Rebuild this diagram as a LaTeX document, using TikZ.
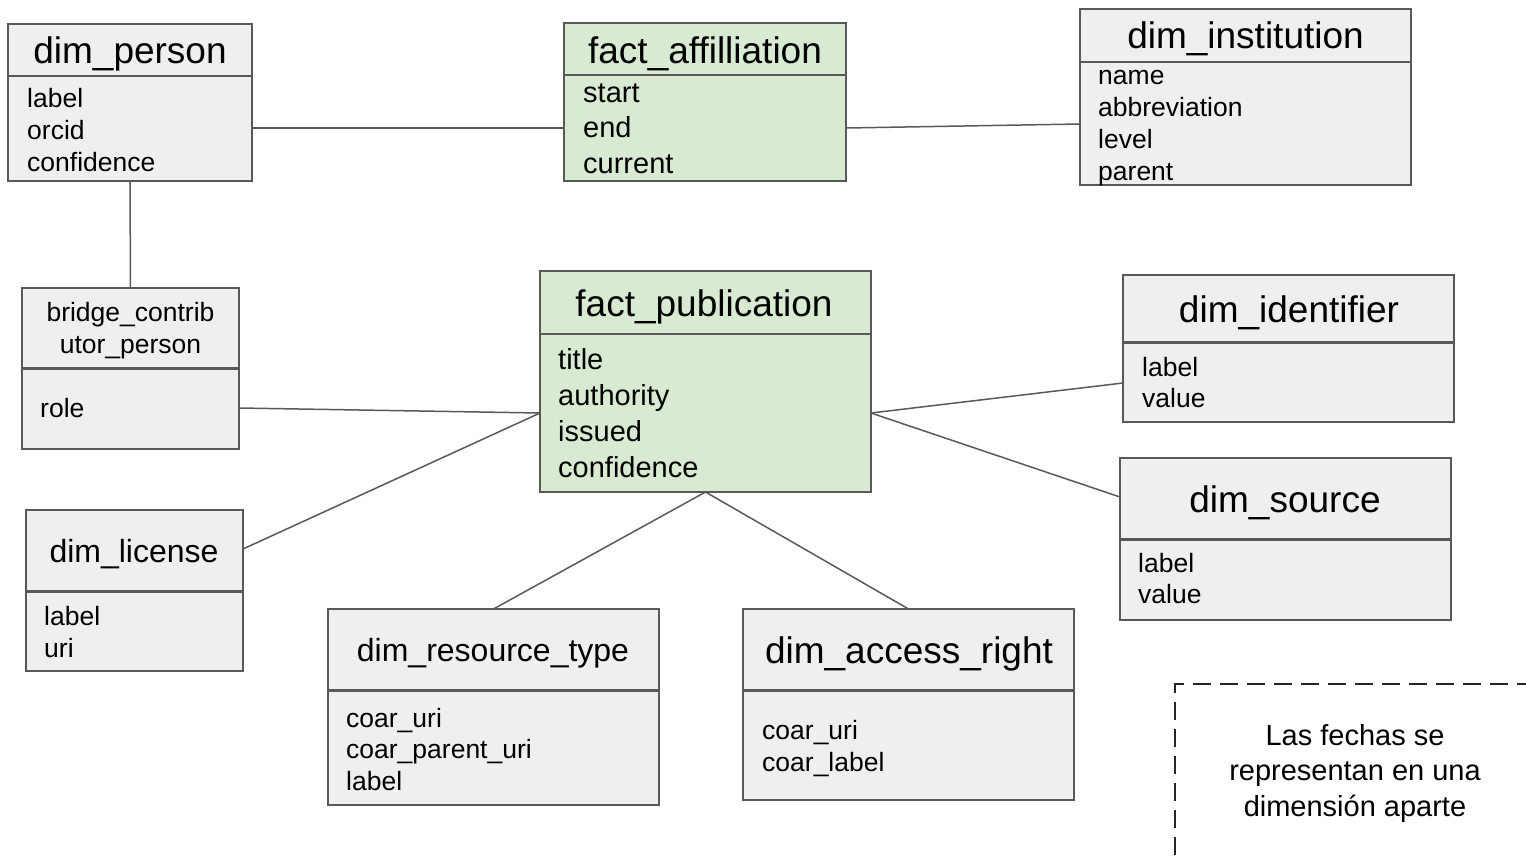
\documentclass[tikz,border=0pt]{standalone}
\usepackage{fontspec}
\setmainfont{Liberation Sans}
\definecolor{bordc}{HTML}{595959}
\definecolor{grayf}{HTML}{EFEFEF}
\definecolor{greenf}{HTML}{D9EAD3}
\newcommand\tblfields[5]{%
  \foreach \fname [count=\i] in {#5}
    \node[fld] (#1-\i) at (#2,{#3+#4*(\i-1)}) {\fname};}
\newcommand\tblfieldsb[5]{%
  \foreach \fname [count=\i] in {#5}
    \node[fldb] (#1-\i) at (#2,{#3+#4*(\i-1)}) {\fname};}
\begin{document}
\begin{tikzpicture}[x=1pt,y=-1pt,
  tbl/.style={draw=bordc, line width=2pt, fill=grayf, inner sep=0pt, outer sep=0pt},
  fact/.style={tbl, fill=greenf},
  ttl/.style={font=\fontsize{37}{44}\selectfont, anchor=base, inner sep=0pt},
  ttls/.style={font=\fontsize{32}{38}\selectfont, anchor=base, inner sep=0pt},
  ttlxs/.style={font=\fontsize{26.5}{32}\selectfont, anchor=base, inner sep=0pt},
  fld/.style={font=\fontsize{26.5}{32}\selectfont, anchor=base west, inner sep=0pt},
  fldb/.style={font=\fontsize{29}{36}\selectfont, anchor=base west, inner sep=0pt},
  notet/.style={font=\fontsize{29}{35}\selectfont, anchor=base, inner sep=0pt},
  conn/.style={draw=bordc, line width=1.5pt},
  divl/.style={draw=bordc, line width=2pt},
  divd/.style={draw=bordc, line width=3pt}]
\useasboundingbox (0,0) rectangle (1526,855);

% boxes
\node[tbl, minimum width=244pt, minimum height=157pt] (person) at (130,102.5) {};
\node[fact, minimum width=282pt, minimum height=158pt] (aff) at (705,102) {};
\node[tbl, minimum width=331pt, minimum height=176pt] (inst) at (1245.5,97) {};
\node[tbl, minimum width=217pt, minimum height=161pt] (bridge) at (130.5,368.5) {};
\node[fact, minimum width=331pt, minimum height=221pt] (pub) at (705.5,381.5) {};
\node[tbl, minimum width=331pt, minimum height=147pt] (ident) at (1288.5,348.5) {};
\node[tbl, minimum width=331pt, minimum height=162pt] (source) at (1285.5,539) {};
\node[tbl, minimum width=217pt, minimum height=161pt] (license) at (134.5,590.5) {};
\node[tbl, minimum width=331pt, minimum height=196pt] (rtype) at (493.5,707) {};
\node[tbl, minimum width=331pt, minimum height=191pt] (access) at (908.5,704.5) {};

% header dividers
\draw[divl] (person.west |- 0,76) -- (person.east |- 0,76);
\draw[divl] (aff.west |- 0,75) -- (aff.east |- 0,75);
\draw[divl] (inst.west |- 0,62) -- (inst.east |- 0,62);
\draw[divd] (bridge.west |- 0,368) -- (bridge.east |- 0,368);
\draw[divl] (pub.west |- 0,334) -- (pub.east |- 0,334);
\draw[divd] (ident.west |- 0,342) -- (ident.east |- 0,342);
\draw[divd] (source.west |- 0,539) -- (source.east |- 0,539);
\draw[divd] (license.west |- 0,591) -- (license.east |- 0,591);
\draw[divd] (rtype.west |- 0,690) -- (rtype.east |- 0,690);
\draw[divd] (access.west |- 0,690) -- (access.east |- 0,690);

% titles
\node[ttl] (person-t) at (130,63.5) {dim\_person};
\node[ttl] (aff-t) at (705,63) {fact\_affilliation};
\node[ttl] (inst-t) at (1245.5,48.5) {dim\_institution};
\node[ttlxs] (bridge-t1) at (130.5,321) {bridge\_contrib};
\node[ttlxs] (bridge-t2) at (130.5,353) {utor\_person};
\node[ttl] (pub-t) at (704,316) {fact\_publication};
\node[ttl] (ident-t) at (1289,322) {dim\_identifier};
\node[ttl] (source-t) at (1285,512) {dim\_source};
\node[ttls] (license-t) at (134,562) {dim\_license};
\node[ttls] (rtype-t) at (493,661) {dim\_resource\_type};
\node[ttl] (access-t) at (909,663) {dim\_access\_right};

% fields
\tblfields{person-f}{27}{107}{32}{label,orcid,confidence}
\tblfieldsb{aff-f}{583}{102}{35.5}{start,end,current}
\tblfields{inst-f}{1098}{84.5}{32}{name,abbreviation,level,parent}
\node[fld] (bridge-f1) at (40,417) {role};
\tblfieldsb{pub-f}{558}{369}{36}{title,authority,issued,confidence}
\tblfields{ident-f}{1142}{376}{31.5}{label,value}
\tblfields{source-f}{1138}{572}{31.5}{label,value}
\tblfields{license-f}{44}{625}{32}{label,uri}
\tblfields{rtype-f}{346}{727}{31.5}{coar\_uri,coar\_parent\_uri,label}
\tblfields{access-f}{762}{739}{32}{coar\_uri,coar\_label}

% connectors
\draw[conn] ([yshift=-25.5pt]person.east) -- ([yshift=-26pt]aff.west);
\draw[conn] ([yshift=-26pt]aff.east) -- ([yshift=-27pt]inst.west);
\draw[conn] (person.south) -- (bridge.north);
\draw[conn] ([yshift=-39.5pt]bridge.east) -- ([yshift=-31.5pt]pub.west);
\draw[conn] ([yshift=41.5pt]license.east) -- ([yshift=-31.5pt]pub.west);
\draw[conn] (pub.south) -- (rtype.north);
\draw[conn] (pub.south) -- (access.north);
\draw[conn] ([yshift=-31.5pt]pub.east) -- ([yshift=-34.5pt]ident.west);
\draw[conn] ([yshift=-31.5pt]pub.east) -- ([yshift=42pt]source.west);

% note
\draw[draw=black!85, line width=1.8pt, dash pattern=on 18pt off 9pt] (1175,855) -- (1175,684) -- (1526,684);
\node[notet] (note-1) at (1355,745) {Las fechas se};
\node[notet] (note-2) at (1355,780.5) {representan en una};
\node[notet] (note-3) at (1355,816) {dimensión aparte};
\end{tikzpicture}
\end{document}
